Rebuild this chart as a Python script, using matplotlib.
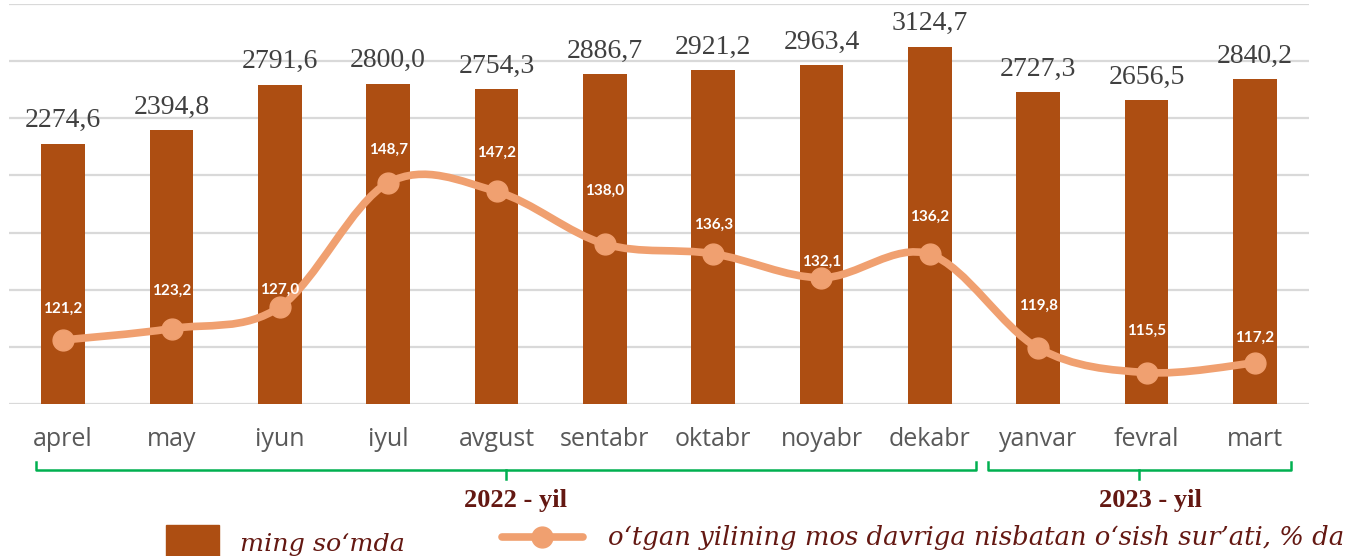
import numpy as np
import matplotlib
matplotlib.use("Agg")
import matplotlib.pyplot as plt
from matplotlib.path import Path
from matplotlib.patches import PathPatch, Rectangle
from matplotlib.lines import Line2D
from matplotlib.ticker import MultipleLocator

months = ["aprel", "may", "iyun", "iyul", "avgust", "sentabr", "oktabr",
          "noyabr", "dekabr", "yanvar", "fevral", "mart"]
income = [2274.6, 2394.8, 2791.6, 2800.0, 2754.3, 2886.7, 2921.2,
          2963.4, 3124.7, 2727.3, 2656.5, 2840.2]
growth = [121.2, 123.2, 127.0, 148.7, 147.2, 138.0, 136.3,
          132.1, 136.2, 119.8, 115.5, 117.2]

BAR = "#AD4E12"
LINE = "#F0A070"
W, H = 1349, 556


def fmt(v):
    return f"{v:.1f}".replace(".", ",")


def P(x, y):
    # pixel position (from top-left) -> figure fraction
    return x / W, 1 - y / H


fig = plt.figure(figsize=(W / 100, H / 100), dpi=100)
ax = fig.add_axes([9 / W, 152 / H, 1300 / W, 400 / H])
x = np.arange(len(months))

ax.bar(x, income, width=0.405, color=BAR, zorder=2)
ax.set_xlim(-0.5, len(months) - 0.5)
ax.set_ylim(0, 3500)
ax.yaxis.set_major_locator(MultipleLocator(500))
ax.grid(axis="y", color="#D9D9D9", lw=1.6, zorder=0)
ax.set_axisbelow(True)
for s in ax.spines.values():
    s.set_visible(False)
ax.set_xticks(x)
ax.set_xticklabels(months, fontsize=18, color="#595959", family="Open Sans")

for i, v in enumerate(income):
    ax.annotate(fmt(v), (i, v), xytext=(0, 12), textcoords="offset points",
                ha="center", va="baseline", fontsize=20,
                family="Liberation Serif", color="#404040", zorder=3)

ax2 = ax.twinx()
ax2.set_ylim(110, 180)
ax2.axis("off")
# twinx turns the left ticks back on, so switch them off afterwards
ax.tick_params(left=False, labelleft=False, right=False, bottom=False, pad=13)

# smooth line (Catmull-Rom style bezier, like Excel's smoothed line)
pts = np.column_stack([x, growth]).astype(float)
ext = np.vstack([pts[0], pts, pts[-1]])
verts = [pts[0]]
codes = [Path.MOVETO]
for i in range(len(pts) - 1):
    p0, p1, p2, p3 = ext[i], ext[i + 1], ext[i + 2], ext[i + 3]
    verts += [p1 + (p2 - p0) / 6, p2 - (p3 - p1) / 6, p2]
    codes += [Path.CURVE4] * 3
ax2.add_patch(PathPatch(Path(verts, codes), fill=False, edgecolor=LINE,
                        lw=5.5, capstyle="round", zorder=4))
ax2.plot(x, growth, "o", ms=15, color=LINE, zorder=5)

# label height above each point, in pixels
label_dy = [31, 38, 17, 33, 39, 53, 29, 16, 37, 42, 42, 25]
for i, v in enumerate(growth):
    ax2.annotate(fmt(v), (i, v), xytext=(0, label_dy[i] * 0.72),
                 textcoords="offset points", ha="center", va="center",
                 color="white", fontweight="bold", fontsize=11,
                 family="Lato", zorder=6)

# year brackets
GREEN = "#00B050"
for x0, x1, xm in [(36, 976, 506), (988, 1291, 1139)]:
    xs = [x0, x0, x1, x1]
    ys = [462, 470, 470, 462]
    fx, fy = zip(*[P(a, b) for a, b in zip(xs, ys)])
    fig.add_artist(Line2D(fx, fy, color=GREEN, lw=1.8, solid_joinstyle="round"))
    fx, fy = zip(*[P(xm, 470), P(xm, 479)])
    fig.add_artist(Line2D(fx, fy, color=GREEN, lw=1.8))

DARK = "#641812"
for xc, txt in [(515, "2022 - yil"), (1150, "2023 - yil")]:
    fig.text(*P(xc, 507), txt, ha="center", va="baseline", fontsize=19,
             fontweight="bold", family="Liberation Serif", color=DARK)

# legend
fig.add_artist(Rectangle(P(166, 565), 53 / W, 40 / H, color=BAR,
                         transform=fig.transFigure))
fx, fy = zip(*[P(502, 537), P(583, 537)])
fig.add_artist(Line2D(fx, fy, color=LINE, lw=5.5, solid_capstyle="round"))
fig.add_artist(Line2D([P(542, 537)[0]], [P(542, 537)[1]], marker="o", ms=15,
                      color=LINE))
fig.text(*P(240, 551), "ming so‘mda", ha="left", va="baseline", fontsize=18.3,
         style="italic", family="DejaVu Serif", color=DARK)
fig.text(*P(608, 545), "o‘tgan yilining mos davriga nisbatan o‘sish sur’ati, % da",
         ha="left", va="baseline", fontsize=18.6, style="italic",
         family="DejaVu Serif", color=DARK)

fig.savefig("out.png", dpi=100)
